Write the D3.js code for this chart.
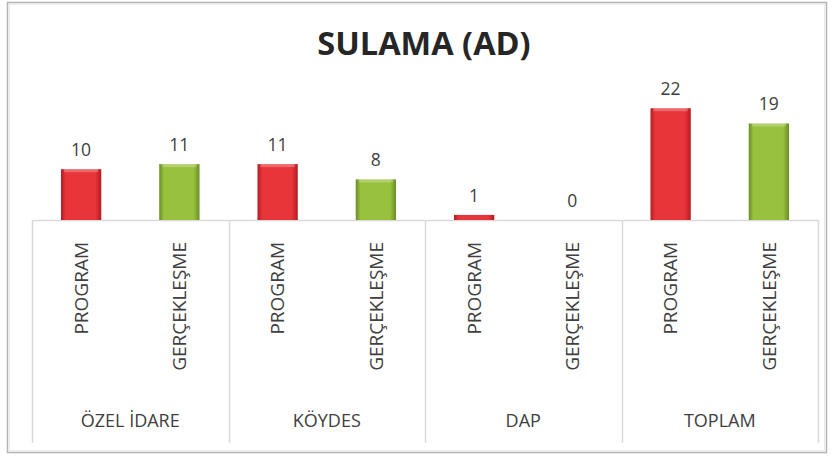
<!DOCTYPE html>
<html>
<head>
<meta charset="utf-8">
<script src="https://cdn.jsdelivr.net/npm/d3@7"></script>
<style>
  html, body { margin: 0; padding: 0; background: #fff; }
  svg { display: block; }
  text { font-family: "Open Sans", "DejaVu Sans", sans-serif; }
</style>
</head>
<body>
<svg id="chart" width="832" height="457"></svg>
<script>
// Sulama (AD): program vs. realisation per source
const title = "SULAMA (AD)";
const groups = ["ÖZEL İDARE", "KÖYDES", "DAP", "TOPLAM"];
const series = ["PROGRAM", "GERÇEKLEŞME"];
const programValues = [10, 11, 1, 22];
const actualValues = [11, 8, 0, 19];
const seriesColors = {
  "PROGRAM": { mid: "#e8353a", edge: "#b41c20" },
  "GERÇEKLEŞME": { mid: "#98c23e", edge: "#6a8d26" }
};

const rows = groups.map((g, i) => ({
  group: g,
  values: [
    { series: series[0], value: programValues[i] },
    { series: series[1], value: actualValues[i] }
  ]
}));

const svg = d3.select("#chart");
const plot = { left: 32, right: 818, baseline: 220, top: 93, bottom: 443 };

// chart frame
svg.append("rect")
  .attr("x", 7.5).attr("y", 2.5).attr("width", 819).attr("height", 450)
  .attr("fill", "#fff").attr("stroke", "#b4b4b4").attr("stroke-width", 1.5);
svg.append("rect")
  .attr("x", 9.5).attr("y", 4.5).attr("width", 815).attr("height", 446)
  .attr("fill", "none").attr("stroke", "#ececec").attr("stroke-width", 1);

// scales
const x0 = d3.scaleBand().domain(groups).range([plot.left, plot.right]).padding(0);
const x1 = d3.scaleBand().domain(series).range([0, x0.bandwidth()])
  .paddingInner(0.59).paddingOuter(0.295);
const y = d3.scaleLinear().domain([0, 25]).range([plot.baseline, plot.top]);

// gradients for bevelled bars
const defs = svg.append("defs");
series.forEach((s, i) => {
  const g = defs.append("linearGradient").attr("id", "grad" + i)
    .attr("x1", "0%").attr("x2", "100%").attr("y1", "0%").attr("y2", "0%");
  g.append("stop").attr("offset", "0%").attr("stop-color", seriesColors[s].edge);
  g.append("stop").attr("offset", "12%").attr("stop-color", seriesColors[s].mid);
  g.append("stop").attr("offset", "85%").attr("stop-color", seriesColors[s].mid);
  g.append("stop").attr("offset", "100%").attr("stop-color", seriesColors[s].edge);
});

// title
svg.append("text")
  .attr("x", 424).attr("y", 55)
  .attr("text-anchor", "middle")
  .attr("font-size", 32.5).attr("font-weight", 700)
  .attr("fill", "#262626")
  .text(title);

// category axis: baseline plus group dividers
const axisColor = "#d9d9d9";
svg.append("line")
  .attr("x1", plot.left).attr("x2", plot.right)
  .attr("y1", plot.baseline + 0.5).attr("y2", plot.baseline + 0.5)
  .attr("stroke", axisColor).attr("stroke-width", 1.5);
const dividers = groups.map(g => x0(g)).concat([x0(groups[groups.length - 1]) + x0.bandwidth()]);
svg.selectAll("line.divider").data(dividers).enter().append("line")
  .attr("class", "divider")
  .attr("x1", d => Math.round(d) + 0.5).attr("x2", d => Math.round(d) + 0.5)
  .attr("y1", plot.baseline).attr("y2", plot.bottom)
  .attr("stroke", axisColor).attr("stroke-width", 1.5);

// bars
const gGroup = svg.selectAll("g.group").data(rows).enter().append("g")
  .attr("class", "group")
  .attr("transform", d => `translate(${x0(d.group)},0)`);

gGroup.selectAll("rect.bar").data(d => d.values).enter().append("rect")
  .attr("class", "bar")
  .attr("x", d => x1(d.series))
  .attr("width", x1.bandwidth())
  .attr("y", d => y(d.value))
  .attr("height", d => y(0) - y(d.value))
  .attr("fill", d => `url(#grad${series.indexOf(d.series)})`);

// top highlight on each bar
gGroup.selectAll("rect.hl").data(d => d.values.filter(v => v.value > 1)).enter().append("rect")
  .attr("class", "hl")
  .attr("x", d => x1(d.series) + 3)
  .attr("width", x1.bandwidth() - 6)
  .attr("y", d => y(d.value))
  .attr("height", 3)
  .attr("fill", "#fff").attr("opacity", 0.25);

// value labels
gGroup.selectAll("text.val").data(d => d.values).enter().append("text")
  .attr("class", "val")
  .attr("x", d => x1(d.series) + x1.bandwidth() / 2)
  .attr("y", d => y(d.value) - 13)
  .attr("text-anchor", "middle")
  .attr("font-size", 17.5)
  .attr("fill", "#404040")
  .text(d => d.value);

// rotated series labels
gGroup.selectAll("text.ser").data(d => d.values).enter().append("text")
  .attr("class", "ser")
  .attr("transform", d => `translate(${x1(d.series) + x1.bandwidth() / 2},242) rotate(-90)`)
  .attr("text-anchor", "end")
  .attr("dy", "0.36em")
  .attr("font-size", 19)
  .attr("fill", "#404040")
  .text(d => d.series);

// group labels
gGroup.append("text")
  .attr("x", x0.bandwidth() / 2)
  .attr("y", 427)
  .attr("text-anchor", "middle")
  .attr("font-size", 18)
  .attr("fill", "#404040")
  .text(d => d.group);
</script>
</body>
</html>
